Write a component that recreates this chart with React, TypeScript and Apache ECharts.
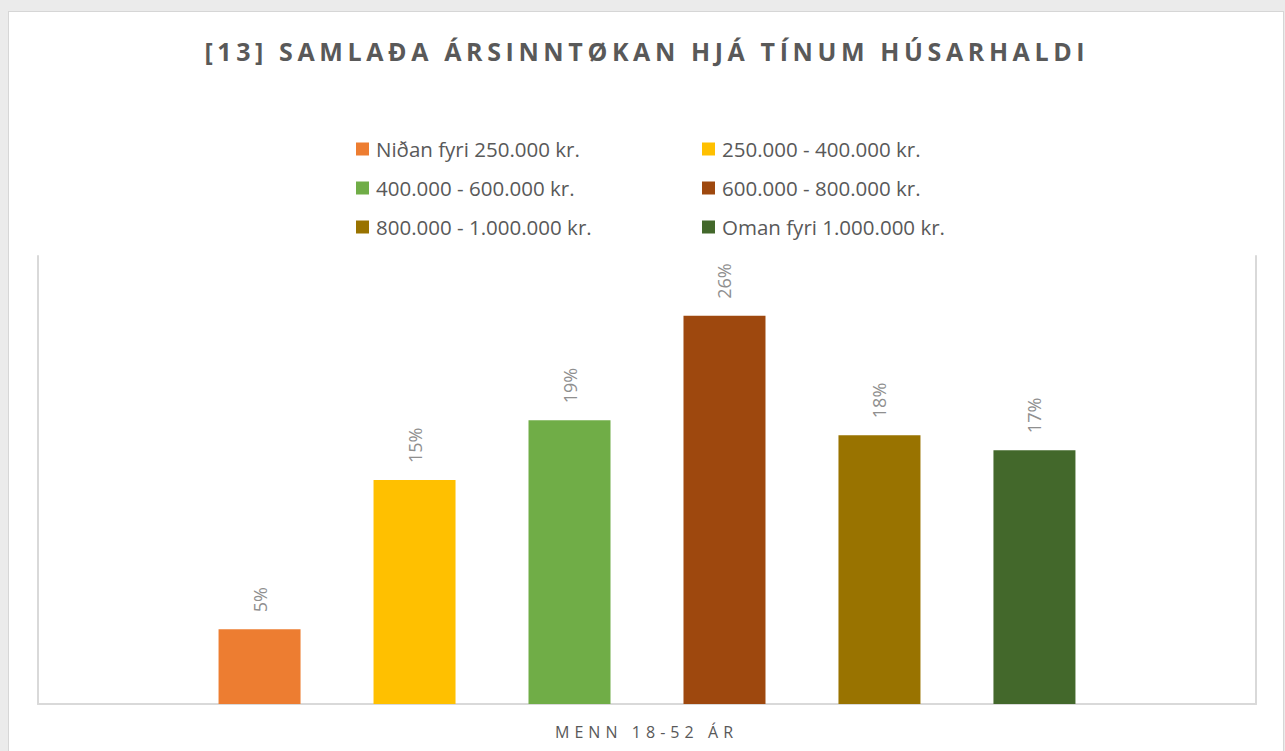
import React, { useEffect, useRef } from "react";
import * as echarts from "echarts";

const TITLE = "[13] SAMLAÐA ÁRSINNTØKAN HJÁ TÍNUM HÚSARHALDI";
const CATEGORIES = ["MENN 18-52 ÁR"];
const SERIES_NAMES = [
  "Niðan fyri 250.000 kr.",
  "250.000 - 400.000 kr.",
  "400.000 - 600.000 kr.",
  "600.000 - 800.000 kr.",
  "800.000 - 1.000.000 kr.",
  "Oman fyri 1.000.000 kr.",
];
const VALUES = [5, 15, 19, 26, 18, 17];
const COLORS = ["#ED7D31", "#FFC000", "#70AD47", "#9E480E", "#997300", "#43682B"];
const Y_MAX = 30;

const TEXT_GRAY = "#595959";
const BORDER = "#d9d9d9";

export default function App() {
  const ref = useRef<HTMLDivElement>(null);

  useEffect(() => {
    if (!ref.current) return;
    const chart = echarts.init(ref.current, null, { renderer: "svg" });

    const fit = (t: SVGTextElement, target: number, shift: number) => {
      t.setAttribute("letter-spacing", "0");
      const w = t.getComputedTextLength();
      const n = (t.textContent || "").length;
      const ls = (target - w) / (n - 1);
      t.setAttribute("letter-spacing", ls.toFixed(2));
      t.setAttribute("dx", (ls / 2 + shift).toFixed(2));
    };
    const adjust = () => {
      const root = ref.current;
      if (!root) return;
      root.querySelectorAll("text").forEach((el) => {
        const t = el as SVGTextElement;
        const s = t.textContent;
        if (s === TITLE) fit(t, 880, 2);
        else if (s === CATEGORIES[0]) fit(t, 178, -3);
      });
    };
    chart.on("finished", adjust);

    const legendCommon = {
      orient: "vertical" as const,
      top: 133,
      itemWidth: 13,
      itemHeight: 13,
      itemGap: 17,
      icon: "rect",
      selectedMode: false,
      textStyle: {
        color: TEXT_GRAY,
        fontSize: 20.5,
        fontFamily: "Open Sans",
        lineHeight: 22,
        padding: [0, 0, 0, 2],
      },
    };

    chart.setOption({
      animation: false,
      backgroundColor: "transparent",
      title: {
        text: TITLE,
        left: "center",
        top: 33,
        textStyle: {
          color: TEXT_GRAY,
          fontSize: 25,
          fontWeight: "bold",
          fontFamily: "Open Sans",
        },
      },
      legend: [
        { ...legendCommon, left: 351, data: [SERIES_NAMES[0], SERIES_NAMES[2], SERIES_NAMES[4]] },
        { ...legendCommon, left: 697, data: [SERIES_NAMES[1], SERIES_NAMES[3], SERIES_NAMES[5]] },
      ],
      grid: { left: 38, right: 29, top: 256, bottom: 47 },
      xAxis: {
        type: "category",
        data: CATEGORIES,
        axisLine: { show: true, lineStyle: { color: BORDER, width: 2 } },
        axisTick: { show: false },
        axisLabel: {
          color: TEXT_GRAY,
          fontSize: 16,
          fontFamily: "Open Sans",
          margin: 20,
        },
      },
      yAxis: [
        {
          type: "value",
          min: 0,
          max: Y_MAX,
          position: "left",
          axisLine: { show: true, lineStyle: { color: BORDER, width: 2 } },
          axisTick: { show: false },
          axisLabel: { show: false },
          splitLine: { show: false },
        },
        {
          type: "value",
          min: 0,
          max: Y_MAX,
          position: "right",
          axisLine: { show: true, lineStyle: { color: BORDER, width: 2 } },
          axisTick: { show: false },
          axisLabel: { show: false },
          splitLine: { show: false },
        },
      ],
      series: SERIES_NAMES.map((name, i) => ({
        name,
        type: "bar",
        yAxisIndex: 0,
        data: [VALUES[i]],
        barWidth: 82,
        barGap: "89%",
        itemStyle: { color: COLORS[i] },
        label: {
          show: true,
          position: "top",
          distance: 17,
          rotate: 90,
          align: "left",
          verticalAlign: "middle",
          formatter: "{c}%",
          color: "#8f8f8f",
          fontSize: 18,
          fontFamily: "Open Sans",
        },
      })),
    });
    adjust();
    const timer = setTimeout(adjust, 50);

    return () => {
      clearTimeout(timer);
      chart.dispose();
    };
  }, []);

  return (
    <div
      style={{
        position: "fixed",
        left: 0,
        top: 0,
        width: 1285,
        height: 751,
        background: "#ebebeb",
        overflow: "hidden",
      }}
    >
      <div
        style={{
          position: "absolute",
          left: 8,
          top: 11,
          width: 1276,
          height: 800,
          background: "#ffffff",
          border: "1px solid #d6d6d6",
          boxSizing: "border-box",
        }}
      />
      <div
        ref={ref}
        style={{ position: "absolute", left: 0, top: 0, width: 1285, height: 751 }}
      />
    </div>
  );
}
